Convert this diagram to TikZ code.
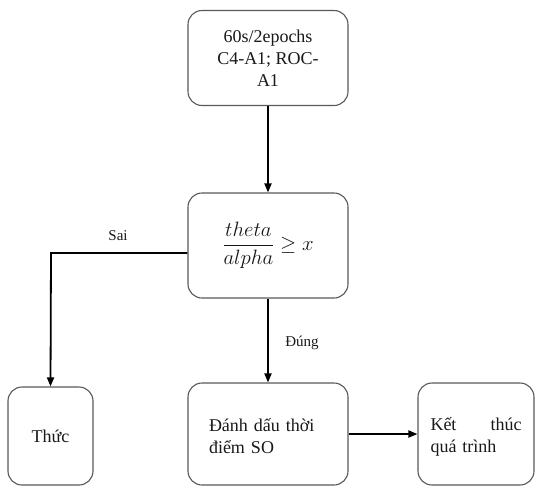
\documentclass[tikz,border=0pt]{standalone}
\usepackage{fontspec}
\setmainfont{Liberation Serif}
\usetikzlibrary{arrows.meta}
\begin{document}
\begin{tikzpicture}[x=1pt,y=-1pt,
  box/.style={draw=black!65, line width=1.1pt, rounded corners=14pt, fill=white,
    font=\fontsize{18}{22}\selectfont, text=black!90, inner sep=0pt},
  conn/.style={line width=1.8pt, -{Triangle[length=9pt,width=7pt]}},
  lbl/.style={font=\fontsize{15}{17}\selectfont, text=black!90}]
\useasboundingbox (0,0) rectangle (535,488);
\node[box, minimum width=160pt, minimum height=95pt, align=center] (src) at (268,58)
  {60s/2epochs\\C4-A1; ROC-\\A1};
\node[box, minimum width=160pt, minimum height=105pt, font=\fontsize{22}{26}\selectfont] (cond) at (268,245.5)
  {$\displaystyle\frac{theta}{alpha}\geq x$};
\node[box, minimum width=85pt, minimum height=98pt] (wake) at (50.5,436) {Thức};
\node[box, minimum width=160pt, minimum height=102pt, text width=118pt, align=left] (mark) at (268,434)
  {\rule{0pt}{18pt}Đánh dấu thời\\điểm SO};
\node[box, minimum width=116pt, minimum height=102pt, text width=91pt, align=left] (end) at (476,434)
  {\rule{0pt}{18pt}Kết\hfill thúc\\quá trình};
\coordinate (corner) at (51,253);
\draw[conn] (src.south) -- (cond.north);
\draw[conn] (cond.west |- corner) -- (corner) -- (wake.north);
\draw[conn] (cond.south) -- (mark.north);
\draw[conn] (mark.east) -- (end.west);
\node[lbl] (sai) at (118,236) {Sai};
\node[lbl] (dung) at (302,343) {Đúng};
\end{tikzpicture}
\end{document}
